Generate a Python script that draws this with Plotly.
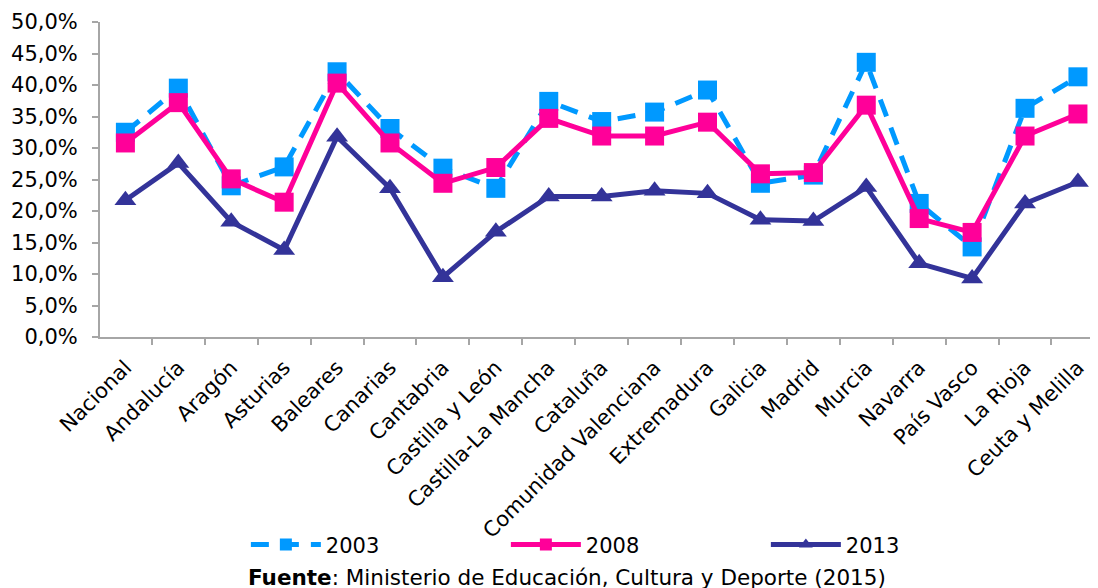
import plotly.graph_objects as go

categories = ["Nacional", "Andalucía", "Aragón", "Asturias", "Baleares", "Canarias",
              "Cantabria", "Castilla y León", "Castilla-La Mancha", "Cataluña",
              "Comunidad Valenciana", "Extremadura", "Galicia", "Madrid", "Murcia",
              "Navarra", "País Vasco", "La Rioja", "Ceuta y Melilla"]

v2003 = [32.5, 39.5, 24.0, 27.0, 42.1, 33.1, 26.8, 23.6, 37.4, 34.2,
         35.7, 39.2, 24.4, 25.7, 43.6, 21.2, 14.3, 36.3, 41.3]
v2008 = [30.8, 37.2, 25.1, 21.4, 40.3, 30.8, 24.4, 26.9, 34.7, 31.9,
         31.9, 34.1, 25.9, 26.1, 36.8, 18.8, 16.6, 31.9, 35.4]
v2013 = [21.7, 27.6, 18.3, 13.8, 31.8, 23.6, 9.5, 16.7, 22.3, 22.3,
         23.2, 22.8, 18.6, 18.4, 23.8, 11.7, 9.3, 21.2, 24.6]

years = ["2003", "2008", "2013"]
series = [v2003, v2008, v2013]
colors = ["#0099FF", "#FF0099", "#333399"]
dashes = ["18px,12px", "solid", "solid"]
symbols = ["square", "square", "triangle-up"]

FONT = "DejaVu Sans"

fig = go.Figure()
for name, vals, col, dsh, sym in zip(years, series, colors, dashes, symbols):
    fig.add_trace(go.Scatter(
        x=categories, y=[v / 100 for v in vals], name=name,
        mode="lines+markers",
        line=dict(color=col, width=5, dash=dsh),
        marker=dict(symbol=sym, size=19, color=col),
    ))

fig.update_layout(
    width=1098, height=588,
    margin=dict(l=92, r=0, t=14, b=259, autoexpand=False),
    paper_bgcolor="white", plot_bgcolor="white",
    separators=",.",
    font=dict(family=FONT, color="black"),
    showlegend=True,
    legend=dict(orientation="h", x=0.145, xanchor="left", y=-0.66, yanchor="middle",
                font=dict(size=21, family=FONT), entrywidth=175, entrywidthmode="pixels",
                itemwidth=70, itemsizing="constant", bgcolor="rgba(0,0,0,0)"),
    annotations=[dict(text="<b>Fuente</b>: Ministerio de Educación, Cultura y Deporte (2015)",
                      x=0.464, y=-0.762, xref="paper", yref="paper", showarrow=False,
                      xanchor="center", yanchor="middle", font=dict(size=21.5, family=FONT))],
)

fig.update_xaxes(
    type="category", range=[-0.48, 18.53], tickangle=-45,
    tickfont=dict(size=21, family=FONT), automargin=False,
    showline=True, linecolor="#A6A6A6", linewidth=2,
    ticks="outside", tickson="boundaries", ticklen=6, tickcolor="#A6A6A6", tickwidth=2,
    ticklabelstandoff=8,
    showgrid=False, zeroline=False,
)
fig.update_yaxes(
    range=[0, 0.5], dtick=0.05, tickformat=".1%",
    tickfont=dict(size=21, family=FONT), automargin=False,
    showline=True, linecolor="#A6A6A6", linewidth=2,
    ticks="outside", ticklen=6, tickcolor="#A6A6A6", tickwidth=2,
    ticklabelstandoff=10,
    showgrid=False, zeroline=False,
)

fig.write_html("out.html")
